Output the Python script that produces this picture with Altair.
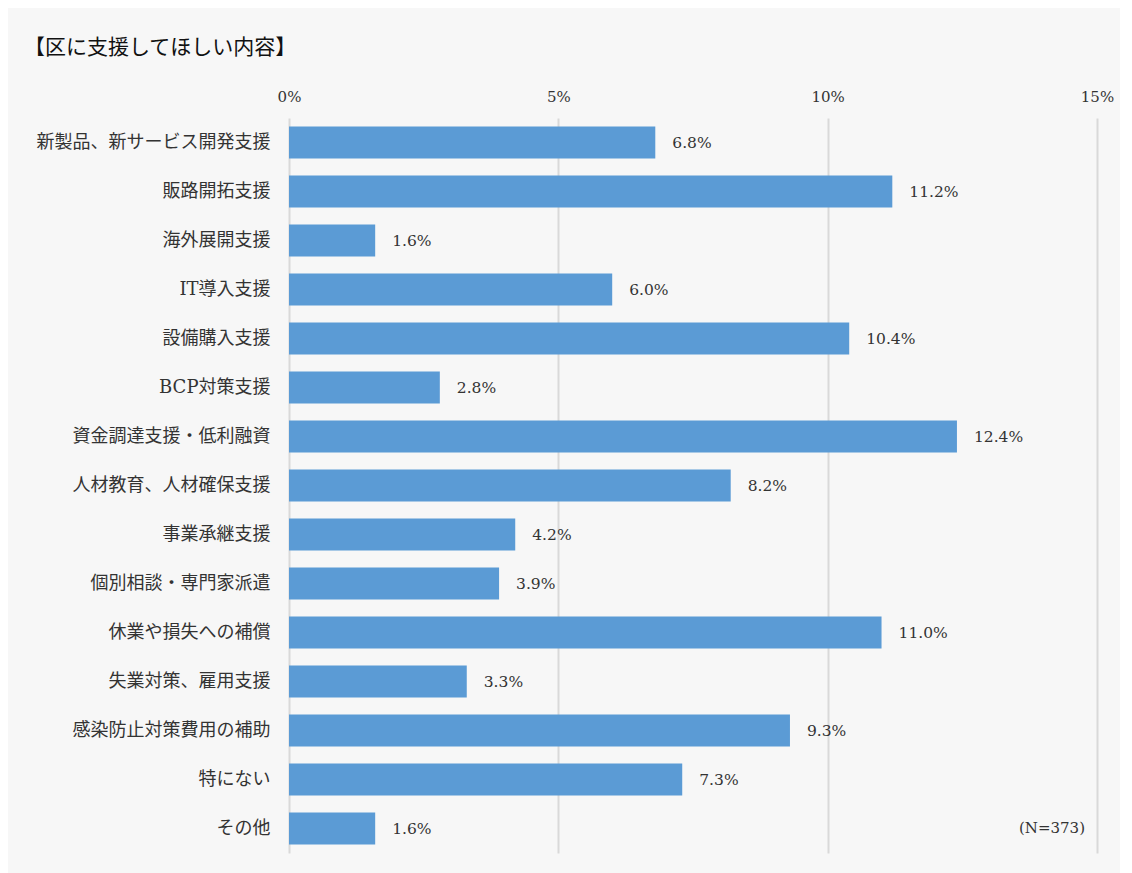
import altair as alt
import pandas as pd

categories = ["新製品、新サービス開発支援", "販路開拓支援", "海外展開支援", "IT導入支援", "設備購入支援",
              "BCP対策支援", "資金調達支援・低利融資", "人材教育、人材確保支援", "事業承継支援",
              "個別相談・専門家派遣", "休業や損失への補償", "失業対策、雇用支援", "感染防止対策費用の補助",
              "特にない", "その他"]
values = [6.8, 11.2, 1.6, 6.0, 10.4, 2.8, 12.4, 8.2, 4.2, 3.9, 11.0, 3.3, 9.3, 7.3, 1.6]
title_text = "【区に支援してほしい内容】"
note_text = "(N=373)"

df = pd.DataFrame({"cat": categories, "val": values})
df["label"] = df["val"].map(lambda v: f"{v:.1f}%")

FONT = "DejaVu Serif, Noto Sans CJK JP"
TXT = "#333333"

y_enc = alt.Y("cat:N", sort=categories, title=None,
              scale=alt.Scale(paddingInner=0.35, paddingOuter=0.175),
              axis=alt.Axis(labelFont=FONT, labelFontSize=18, labelColor=TXT,
                            labelFontWeight="normal", labelLimit=0,
                            labelPadding=19, ticks=False, domain=False))
x_enc = alt.X("val:Q", title=None, scale=alt.Scale(domain=[0, 15], nice=False),
              axis=alt.Axis(orient="top", values=[0, 5, 10, 15], labelExpr="datum.value + '%'",
                            labelFont=FONT, labelFontSize=15, labelColor=TXT, labelFlush=False,
                            labelPadding=14, ticks=False, domain=False,
                            grid=True, gridColor="#d9d9d9", gridWidth=2))

bars = alt.Chart(df).mark_bar(color="#5b9bd5").encode(x=x_enc, y=y_enc)
texts = alt.Chart(df).mark_text(align="left", baseline="middle", dx=17, font=FONT,
                                fontSize=15.5, color=TXT).encode(
    x="val:Q", y=alt.Y("cat:N", sort=categories), text="label:N")

title_df = pd.DataFrame({"t": [title_text]})
title = alt.Chart(title_df).mark_text(align="left", baseline="middle", font=FONT,
                                      fontSize=21, color="#111111", fontWeight="normal").encode(
    x=alt.value(-265), y=alt.value(-70), text="t:N")

note_df = pd.DataFrame({"t": [note_text]})
note = alt.Chart(note_df).mark_text(align="right", baseline="middle", font=FONT,
                                    fontSize=15, color=TXT).encode(
    x=alt.value(796), y=alt.value(710), text="t:N")

chart = alt.layer(bars, texts, title, note).properties(
    width=808, height=735,
    autosize=alt.AutoSizeParams(type="none"),
    padding={"left": 281, "top": 110, "right": 23, "bottom": 20},
    background="#f7f7f7",
).configure_view(stroke=None)

chart.save("out.html", embed_options={"renderer": "svg", "actions": False})
